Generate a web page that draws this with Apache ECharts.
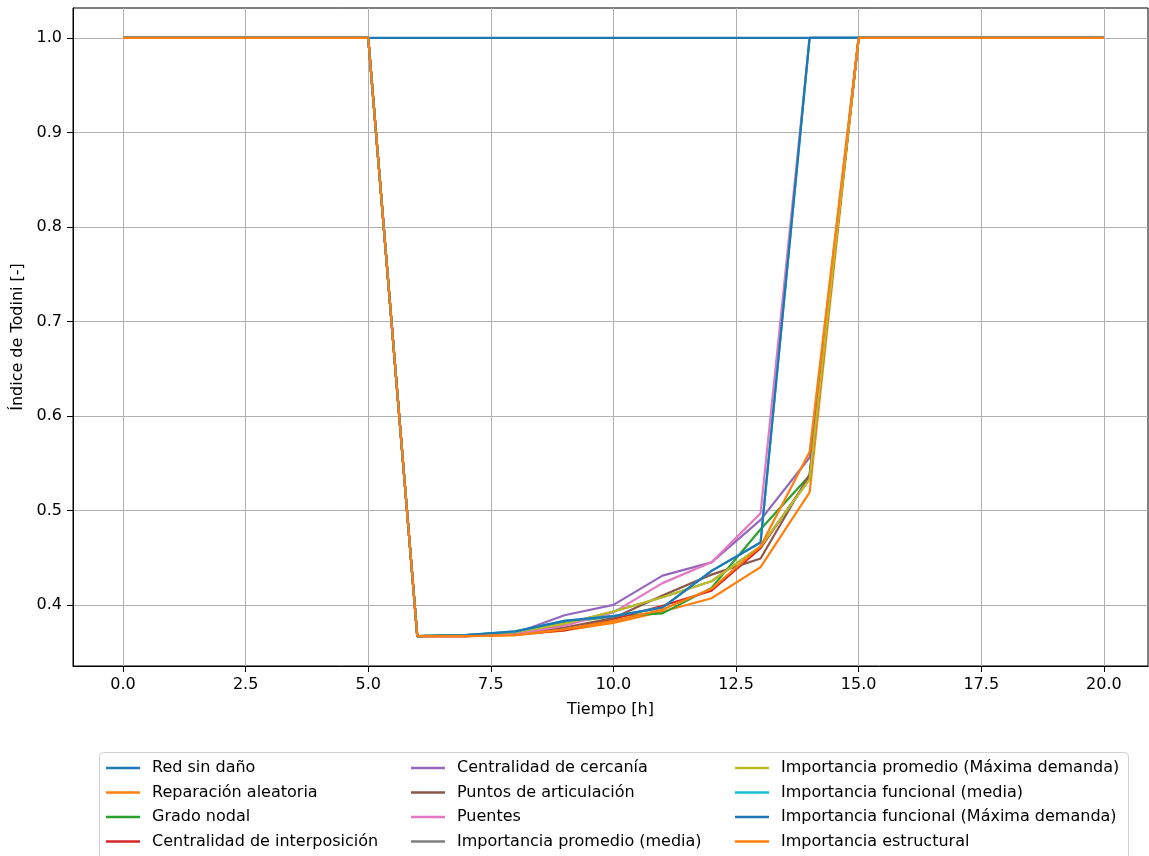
<!DOCTYPE html>
<html>
<head>
<meta charset="utf-8">
<script src="https://cdn.jsdelivr.net/npm/echarts@6/dist/echarts.min.js"></script>
<style>
html,body{margin:0;padding:0;background:#fff;}
#chart{width:1149px;height:856px;}
</style>
</head>
<body>
<div id="chart"></div>
<script>
// ---- data ----
const hours = [0,1,2,3,4,5,6,7,8,9,10,11,12,13,14,15,16,17,18,19,20];
const xTicks = [0,2.5,5,7.5,10,12.5,15,17.5,20];
const yTicks = [0.4,0.5,0.6,0.7,0.8,0.9,1.0];
const seriesNames = [
  "Red sin daño",
  "Reparación aleatoria",
  "Grado nodal",
  "Centralidad de interposición",
  "Centralidad de cercanía",
  "Puntos de articulación",
  "Puentes",
  "Importancia promedio (media)",
  "Importancia promedio (Máxima demanda)",
  "Importancia funcional (media)",
  "Importancia funcional (Máxima demanda)",
  "Importancia estructural"
];
const redSinDano        = [1,1,1,1,1,1,1,1,1,1,1,1,1,1,1,1,1,1,1,1,1];
const reparacionAleat   = [1,1,1,1,1,1,0.367,0.367,0.368,0.373,0.381,0.393,0.407,0.440,0.519,1,1,1,1,1,1];
const gradoNodal        = [1,1,1,1,1,1,0.367,0.368,0.371,0.381,0.388,0.391,0.418,0.480,0.537,1,1,1,1,1,1];
const centInterposicion = [1,1,1,1,1,1,0.367,0.367,0.369,0.373,0.385,0.399,0.415,0.460,0.535,1,1,1,1,1,1];
const centCercania      = [1,1,1,1,1,1,0.367,0.368,0.370,0.389,0.400,0.431,0.445,0.490,0.556,1,1,1,1,1,1];
const puntosArticulacion= [1,1,1,1,1,1,0.367,0.367,0.369,0.376,0.386,0.410,0.432,0.449,0.538,1,1,1,1,1,1];
const puentes           = [1,1,1,1,1,1,0.367,0.367,0.369,0.378,0.392,0.423,0.445,0.497,1,1,1,1,1,1,1];
const impPromMedia      = [1,1,1,1,1,1,0.367,0.368,0.371,0.380,0.393,0.408,0.425,0.462,0.533,1,1,1,1,1,1];
const impPromMax        = [1,1,1,1,1,1,0.367,0.368,0.371,0.380,0.393,0.408,0.425,0.462,0.533,1,1,1,1,1,1];
const impFuncMedia      = [1,1,1,1,1,1,0.367,0.368,0.372,0.383,0.388,0.397,0.436,0.466,1,1,1,1,1,1,1];
const impFuncMax        = [1,1,1,1,1,1,0.367,0.368,0.372,0.383,0.388,0.397,0.436,0.466,1,1,1,1,1,1,1];
const impEstructural    = [1,1,1,1,1,1,0.367,0.367,0.368,0.374,0.383,0.395,0.417,0.462,0.562,1,1,1,1,1,1];
const seriesValues = [redSinDano,reparacionAleat,gradoNodal,centInterposicion,centCercania,
  puntosArticulacion,puentes,impPromMedia,impPromMax,impFuncMedia,impFuncMax,impEstructural];
const colors = ['#1f77b4','#ff7f0e','#2ca02c','#d62728','#9467bd','#8c564b','#e377c2','#7f7f7f','#bcbd22','#17becf','#1f77b4','#ff7f0e'];

const FONT = 'DejaVu Sans';
const FS = 16;
const chart = echarts.init(document.getElementById('chart'), null, {renderer:'canvas'});

const series = seriesNames.map((n,i)=>({
  name:n, type:'line', symbol:'none', showSymbol:false,
  data: hours.map((h,j)=>[h, seriesValues[i][j]]),
  lineStyle:{width:2.2, color:colors[i]}, itemStyle:{color:colors[i]},
  animation:false
}));

function legendCol(names, left){
  return {
    orient:'vertical', left:left, top:755, height:110, icon:'rect', itemWidth:34, itemHeight:2.4,
    itemGap:8.5, data:names, selectedMode:false,
    textStyle:{fontFamily:FONT, fontSize:FS, color:'#000', lineHeight:16, padding:[0,0,0,7]}
  };
}

chart.setOption({
  animation:false,
  color: colors,
  grid:{left:73, right:1, top:8, bottom:190, show:true, borderColor:'#000', borderWidth:1, backgroundColor:'transparent'},
  xAxis:{
    type:'value', min:-1.02, max:20.9,
    name:'Tiempo [h]', nameLocation:'middle', nameGap:36,
    nameTextStyle:{fontFamily:FONT, fontSize:FS, color:'#000'},
    axisLine:{show:true, onZero:false, lineStyle:{color:'#000'}},
    axisTick:{show:true, length:6, customValues:xTicks, lineStyle:{color:'#000'}},
    axisLabel:{customValues:xTicks, fontFamily:FONT, fontSize:FS, color:'#000', margin:11,
      formatter:v=>v.toFixed(1)},
    splitLine:{show:true, lineStyle:{color:'#b0b0b0', width:1}}
  },
  yAxis:{
    type:'value', min:0.3353, max:1.0317,
    name:'Índice de Todini [-]', nameLocation:'middle', nameGap:43,
    nameTextStyle:{fontFamily:FONT, fontSize:FS, color:'#000'},
    axisLine:{show:true, onZero:false, lineStyle:{color:'#000'}},
    axisTick:{show:true, length:6, customValues:yTicks, lineStyle:{color:'#000'}},
    axisLabel:{customValues:yTicks, fontFamily:FONT, fontSize:FS, color:'#000', margin:11,
      formatter:v=>v.toFixed(1)},
    splitLine:{show:true, lineStyle:{color:'#b0b0b0', width:1}}
  },
  legend:[
    legendCol(seriesNames.slice(0,4), 101),
    legendCol(seriesNames.slice(4,8), 406),
    legendCol(seriesNames.slice(8,12), 730)
  ],
  graphic:[{
    type:'rect', left:99, top:752, shape:{width:1029, height:110, r:4},
    style:{fill:'#fff', stroke:'#d0d0d0', lineWidth:1}, z:-1, silent:true
  }],
  series: series
});
</script>
</body>
</html>
